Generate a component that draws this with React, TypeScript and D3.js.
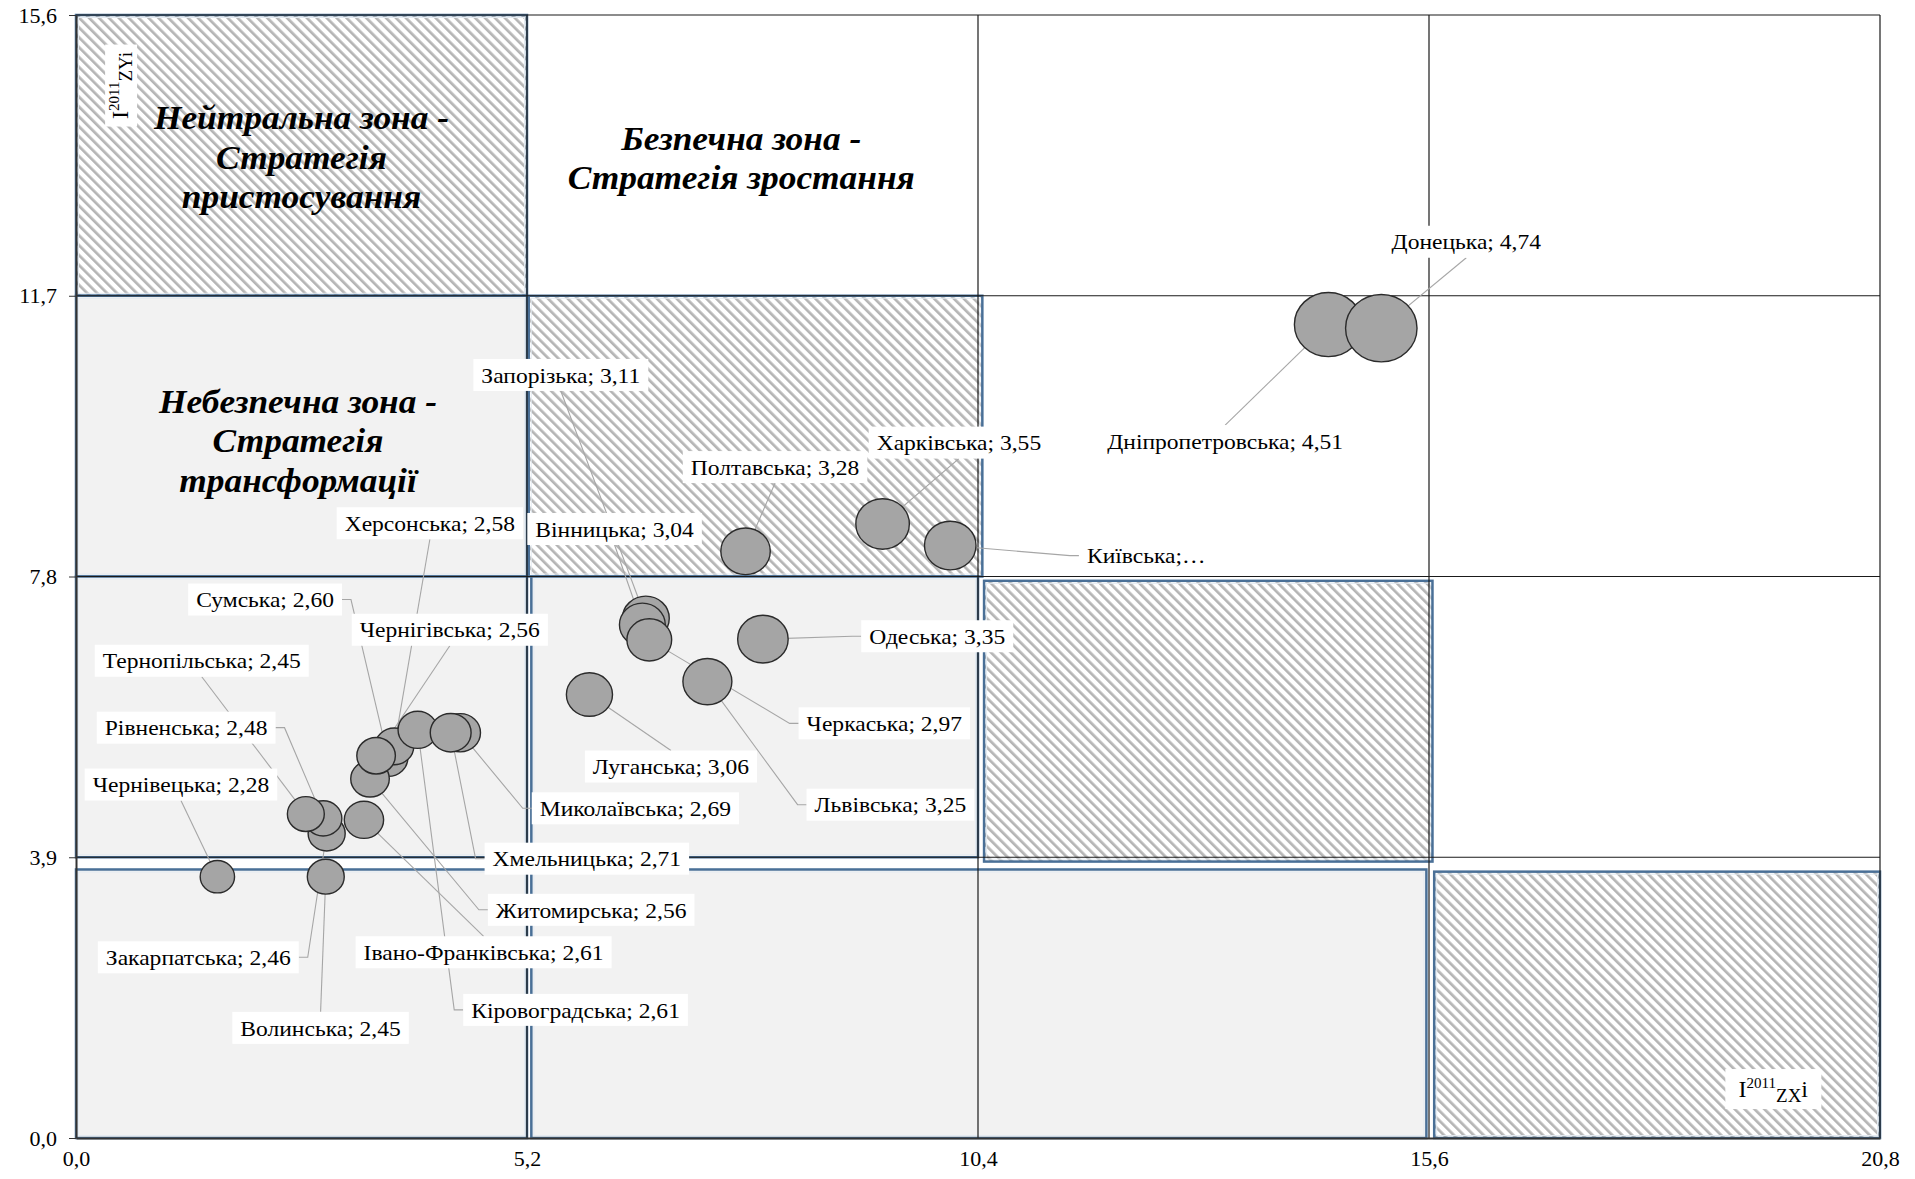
import { useEffect, useRef } from 'react'
import * as d3 from 'd3'

// регіони у порядку малювання (пізніші лежать зверху)
const regions = [
  'Волинська', 'Чернівецька', 'Закарпатська', 'Рівненська', 'Тернопільська',
  'Івано-Франківська', 'Сумська', 'Житомирська', 'Херсонська', 'Чернігівська',
  'Кіровоградська', 'Миколаївська', 'Хмельницька', 'Луганська', 'Запорізька',
  'Вінницька', 'Черкаська', 'Львівська', 'Одеська', 'Полтавська',
  'Харківська', 'Київська', 'Дніпропетровська', 'Донецька',
]
// I2011 zx
const xValues = [
  2.88, 1.63, 2.89, 2.85, 2.65, 3.32, 3.6, 3.39, 3.67, 3.46, 3.94, 4.43,
  4.32, 5.92, 6.57, 6.53, 6.61, 7.28, 7.92, 7.72, 9.3, 10.08, 14.44, 15.05,
]
// I2011 zy
const yValues = [
  3.63, 3.63, 4.23, 4.44, 4.5, 4.42, 5.28, 4.99, 5.44, 5.31, 5.67, 5.63,
  5.63, 6.16, 7.22, 7.13, 6.92, 6.34, 6.93, 8.15, 8.53, 8.23, 11.3, 11.25,
]
// розмір бульбашки
const sizes = [
  2.45, 2.28, 2.46, 2.48, 2.45, 2.61, 2.6, 2.56, 2.58, 2.56, 2.61, 2.69,
  2.71, 3.06, 3.11, 3.04, 2.97, 3.25, 3.35, 3.28, 3.55, 3.42, 4.51, 4.74,
]
// where each data label sits (axis units) and which side its leader leaves from
const labelX = [
  2.82, 1.21, 1.41, 1.27, 1.45, 4.7, 2.18, 5.94, 4.08, 4.31, 5.76, 6.45,
  5.89, 6.86, 5.59, 6.21, 9.32, 9.39, 9.93, 8.06, 10.18, 12.34, 13.25, 16.03,
]
const labelY = [
  1.53, 4.91, 2.51, 5.7, 6.63, 2.58, 7.48, 3.17, 8.54, 7.06, 1.78, 4.58,
  3.88, 5.16, 10.6, 8.46, 5.76, 4.63, 6.97, 9.32, 9.66, 8.09, 9.68, 12.45,
]
const leaderSide = [
  't', 'b', 'r', 'r', 'b', 't', 'r', 'l', 'b', 'b', 'l', 'l',
  'l', 't', 'b', 'b', 'l', 'l', 'l', 'b', 'b', 'l', 't', 'b',
]
const truncated = ['Київська']

const xTicks = [0, 5.2, 10.4, 15.6, 20.8]
const yTicks = [0, 3.9, 7.8, 11.7, 15.6]

// зони матриці: [x0, x1, y0, y1, тип]
const zones: [number, number, number, number, string][] = [
  [0, 5.2, 11.7, 15.6, 'hatch'],
  [0, 5.2, 7.8, 11.7, 'gray'],
  [5.22, 10.45, 7.8, 11.7, 'hatch'],
  [0, 5.2, 3.9, 7.8, 'gray'],
  [5.25, 10.4, 3.9, 7.8, 'gray'],
  [10.47, 15.64, 3.84, 7.74, 'hatch'],
  [0, 5.2, 0, 3.73, 'gray'],
  [5.25, 15.57, 0, 3.73, 'gray'],
  [15.66, 20.8, 0, 3.7, 'hatch'],
]

const zoneTitles = [
  { lines: ['Нейтральна зона -', 'Стратегія', 'пристосування'], x: 2.6, y: 13.63 },
  { lines: ['Безпечна зона -', 'Стратегія зростання'], x: 7.67, y: 13.62 },
  { lines: ['Небезпечна зона -', 'Стратегія', 'трансформації'], x: 2.56, y: 9.69 },
]

const FONT = '"Liberation Serif", "Times New Roman", serif'
const fmt1 = (v: number) => d3.format('.1f')(v).replace('.', ',')
const fmt2 = (v: number) => d3.format('.2f')(v).replace('.', ',')

const App = () => {
  const ref = useRef<SVGSVGElement>(null)

  useEffect(() => {
    const svg = d3.select(ref.current)
    svg.selectAll('*').remove()

    const x = d3.scaleLinear().domain([0, 20.8]).range([76, 1880])
    const y = d3.scaleLinear().domain([0, 15.6]).range([1138, 15])
    const r = d3.scaleLinear().domain([0, d3.max(sizes) as number]).range([0, 33.7])

    // the original text is slightly wider than plain Times
    const stretch = (sel: d3.Selection<SVGTextElement, unknown, null, undefined>, k: number) => {
      const w = (sel.node() as SVGTextElement).getComputedTextLength()
      sel.attr('textLength', w * k).attr('lengthAdjust', 'spacingAndGlyphs')
      return w * k
    }

    // hatch pattern
    const pat = svg
      .append('defs')
      .append('pattern')
      .attr('id', 'hatch')
      .attr('patternUnits', 'userSpaceOnUse')
      .attr('width', 7)
      .attr('height', 7)
      .attr('patternTransform', 'rotate(-45)')
    pat.append('rect').attr('width', 7).attr('height', 7).attr('fill', '#fff')
    pat.append('rect').attr('width', 2.7).attr('height', 7).attr('fill', '#b5b5b5')

    svg.append('rect').attr('x', x(0)).attr('y', y(15.6)).attr('width', x(20.8) - x(0)).attr('height', y(0) - y(15.6)).attr('fill', '#fff')

    // zones
    const zg = svg.append('g')
    zones.forEach(([x0, x1, y0, y1, kind]) => {
      zg.append('rect')
        .attr('x', x(x0))
        .attr('y', y(y1))
        .attr('width', x(x1) - x(x0))
        .attr('height', y(y0) - y(y1))
        .attr('fill', kind === 'hatch' ? 'url(#hatch)' : '#f2f2f2')
        .attr('stroke', '#4a7097')
        .attr('stroke-width', 2.5)
      zg.append('rect')
        .attr('x', x(x0) + 2.5)
        .attr('y', y(y1) + 2.5)
        .attr('width', x(x1) - x(x0) - 5)
        .attr('height', y(y0) - y(y1) - 5)
        .attr('fill', 'none')
        .attr('stroke', '#e4ebf2')
        .attr('stroke-width', 1)
    })

    // gridlines
    const gg = svg.append('g').attr('stroke', '#1a1a1a').attr('stroke-width', 1.2)
    xTicks.slice(1).forEach((t) => {
      gg.append('line').attr('x1', x(t)).attr('x2', x(t)).attr('y1', y(0)).attr('y2', y(15.6))
    })
    yTicks.slice(1).forEach((t) => {
      gg.append('line').attr('x1', x(0)).attr('x2', x(20.8)).attr('y1', y(t)).attr('y2', y(t))
    })

    // zone titles
    zoneTitles.forEach((z) => {
      const n = z.lines.length
      z.lines.forEach((line, i) => {
        const t = svg
          .append('text')
          .attr('x', x(z.x))
          .attr('y', y(z.y) + (i - (n - 1) / 2) * 39.5)
          .attr('dy', '0.35em')
          .attr('text-anchor', 'middle')
          .style('font-family', FONT)
          .attr('font-size', 34)
          .attr('font-weight', 'bold')
          .attr('font-style', 'italic')
          .text(line)
        stretch(t, 1.04)
      })
    })

    // labels measured first so leaders can start at the box edges
    const labels = regions.map((name, i) => (truncated.includes(name) ? `${name};…` : `${name}; ${fmt2(sizes[i])}`))
    const lg = svg.append('g')
    const boxes = labels.map((t, i) => {
      const txt = lg
        .append('text')
        .attr('x', x(labelX[i]))
        .attr('y', y(labelY[i]))
        .attr('dy', '0.35em')
        .attr('text-anchor', 'middle')
        .style('font-family', FONT)
        .attr('font-size', 22)
        .text(t)
      const w = stretch(txt, 1.07)
      return { cx: x(labelX[i]), cy: y(labelY[i]), w: w + 16, h: 32 }
    })

    // leader lines (drawn under the bubbles)
    const lead = svg.insert('g', () => lg.node() as SVGGElement)
    boxes.forEach((b, i) => {
      const bx = x(xValues[i])
      const by = y(yValues[i])
      const side = leaderSide[i]
      let pts: [number, number][]
      if (side === 'l') pts = [[b.cx - b.w / 2, b.cy], [b.cx - b.w / 2 - 9, b.cy], [bx, by]]
      else if (side === 'r') pts = [[b.cx + b.w / 2, b.cy], [b.cx + b.w / 2 + 9, b.cy], [bx, by]]
      else if (side === 't') pts = [[b.cx, b.cy - b.h / 2], [bx, by]]
      else pts = [[b.cx, b.cy + b.h / 2], [bx, by]]
      lead
        .append('path')
        .attr('d', d3.line()(pts))
        .attr('fill', 'none')
        .attr('stroke', '#a6a6a6')
        .attr('stroke-width', 1.1)
    })

    // bubbles
    const bub = svg.insert('g', () => lg.node() as SVGGElement)
    regions.forEach((_, i) => {
      bub
        .append('ellipse')
        .attr('cx', x(xValues[i]))
        .attr('cy', y(yValues[i]))
        .attr('rx', r(sizes[i]) * 1.06)
        .attr('ry', r(sizes[i]))
        .attr('fill', '#a5a5a5')
        .attr('stroke', '#2b2b2b')
        .attr('stroke-width', 1.4)
    })

    // label boxes behind label text
    boxes.forEach((b) => {
      lg.insert('rect', 'text')
        .attr('x', b.cx - b.w / 2)
        .attr('y', b.cy - b.h / 2)
        .attr('width', b.w)
        .attr('height', b.h)
        .attr('fill', '#fff')
    })

    // axes
    const yAxis = svg
      .append('g')
      .attr('transform', `translate(${x(0)},0)`)
      .call(d3.axisLeft(y).tickValues(yTicks).tickSize(7).tickSizeOuter(0).tickPadding(12).tickFormat((d) => fmt1(+d)))
    const xAxis = svg
      .append('g')
      .attr('transform', `translate(0,${y(0)})`)
      .call(d3.axisBottom(x).tickValues(xTicks).tickSize(0).tickSizeOuter(0).tickPadding(12).tickFormat((d) => fmt1(+d)))
    ;[yAxis, xAxis].forEach((a) => {
      a.select('.domain').attr('stroke', '#333').attr('stroke-width', 2)
      a.selectAll('line').attr('stroke', '#333')
      a.selectAll('text').style('font-family', FONT).attr('font-size', 22).attr('fill', '#000')
    })

    // axis titles
    const yt = svg.append('g').attr('transform', `translate(${x(0.52)},${y(14.62)}) rotate(-90)`)
    yt.append('rect').attr('x', -41).attr('y', -16).attr('width', 82).attr('height', 32).attr('fill', '#fff')
    const ytt = yt.append('text').attr('text-anchor', 'middle').attr('dy', '0.3em').style('font-family', FONT).attr('font-size', 24)
    ytt.append('tspan').text('I')
    ytt.append('tspan').attr('font-size', 15).attr('dy', -9).text('2011')
    ytt.append('tspan').attr('font-size', 19).attr('dy', 13).text('ZYi')

    const xt = svg.append('g').attr('transform', `translate(${x(19.57)},${y(0.68)})`)
    xt.append('rect').attr('x', -48).attr('y', -20).attr('width', 96).attr('height', 40).attr('fill', '#fff')
    const xtt = xt.append('text').attr('text-anchor', 'middle').attr('dy', '0.35em').style('font-family', FONT).attr('font-size', 24)
    xtt.append('tspan').text('I')
    xtt.append('tspan').attr('font-size', 15).attr('dy', -9).text('2011')
    xtt.append('tspan').attr('font-size', 19).attr('dy', 14).text('ZX')
    xtt.append('tspan').attr('dy', -5).text('i')
  }, [])

  return (
    <svg
      ref={ref}
      width={1915}
      height={1179}
      style={{ position: 'absolute', left: 0, top: 0, display: 'block', background: '#fff' }}
    />
  )
}

export default App
